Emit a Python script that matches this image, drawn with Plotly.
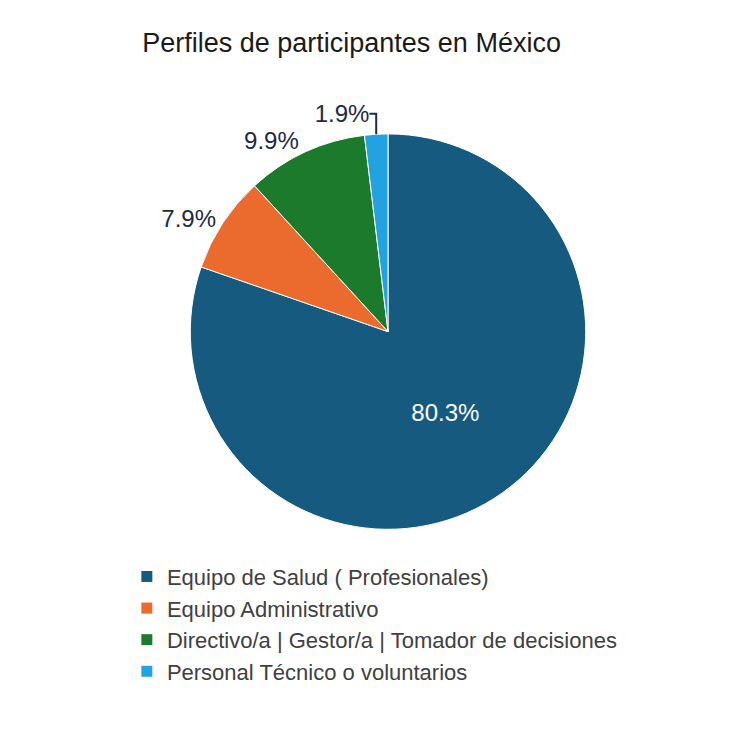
import plotly.graph_objects as go

labels = ["Equipo de Salud ( Profesionales)", "Equipo Administrativo",
          "Directivo/a | Gestor/a | Tomador de decisiones", "Personal Técnico o voluntarios"]
values = [80.3, 7.9, 9.9, 1.9]
colors = ["#175a80", "#ea6b2d", "#1b7a2b", "#22a3e0"]
text_pos = ["inside", "outside", "outside", "outside"]

fig = go.Figure(go.Pie(
    labels=labels, values=values, sort=False, direction="clockwise", rotation=0,
    marker=dict(colors=colors, line=dict(color="white", width=1)),
    texttemplate="%{value:.1f}%", textposition=text_pos,
    insidetextfont=dict(color="white", size=24), outsidetextfont=dict(color="#1f2a44", size=24),
    domain=dict(x=[0.0, 1.0], y=[0.3, 0.9]), hole=0,
))
fig.update_layout(
    width=731, height=729, paper_bgcolor="white", plot_bgcolor="white",
    font=dict(family="Liberation Sans, Arial", color="#404040"),
    title=dict(text="Perfiles de participantes en México", x=0.47, xanchor="center", y=0.965,
               font=dict(size=27, color="#1a1a1a")),
    margin=dict(l=10, r=10, t=60, b=10),
    legend=dict(orientation="v", x=0.02, y=0.26, yanchor="top", xanchor="left",
                font=dict(size=22, color="#404040"), itemwidth=30),
)
fig.write_html("out.html")
